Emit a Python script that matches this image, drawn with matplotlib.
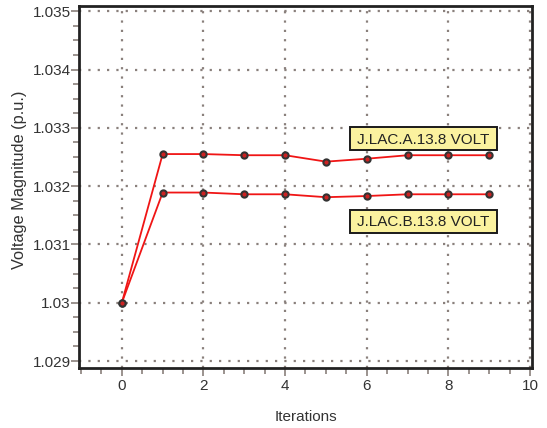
import matplotlib
matplotlib.use("Agg")
import matplotlib.pyplot as plt
from matplotlib.ticker import MultipleLocator
from matplotlib.patches import Rectangle

plt.rcParams['font.family'] = ['Liberation Sans', 'DejaVu Sans']

iterations = [0, 1, 2, 3, 4, 5, 6, 7, 8, 9]
volt_a = [1.0300, 1.03255, 1.03255, 1.03253, 1.03253, 1.03242, 1.03247, 1.03253, 1.03253, 1.03253]
volt_b = [1.0300, 1.03189, 1.03189, 1.03186, 1.03186, 1.03181, 1.03183, 1.03186, 1.03186, 1.03186]
label_a = "J.LAC.A.13.8 VOLT"
label_b = "J.LAC.B.13.8 VOLT"
y_ticks = [1.029, 1.030, 1.031, 1.032, 1.033, 1.034, 1.035]
y_tick_labels = ["1.029", "1.03", "1.031", "1.032", "1.033", "1.034", "1.035"]
x_ticks = [0, 2, 4, 6, 8, 10]

W, H = 547, 428
fig = plt.figure(figsize=(W/100, H/100), dpi=100)
ax = fig.add_axes([79/W, 1-368/H, (532-79)/W, (368-6)/H])

grid_c = '#8a807c'
ax.set_xlim(-1.05, 10.05)
ax.set_ylim(1.02888, 1.03509)
ax.set_xticks(x_ticks)
ax.set_yticks(y_ticks)
ax.set_yticklabels(y_tick_labels)
ax.xaxis.set_minor_locator(MultipleLocator(0.5))
ax.yaxis.set_minor_locator(MultipleLocator(0.00025))
ax.grid(True, which='major', color=grid_c, linestyle=(0, (1, 3.2)), linewidth=1.6)
ax.set_axisbelow(True)

for s in ax.spines.values():
    s.set_color('#222222')
    s.set_linewidth(2)

ax.tick_params(axis='both', which='major', direction='out', length=6, width=1.2,
               color=grid_c, labelsize=11, labelcolor='#333333', pad=2)
ax.tick_params(axis='y', which='major', pad=0)
ax.tick_params(axis='both', which='minor', direction='out', length=4, width=1.2, color=grid_c)

for vals in (volt_a, volt_b):
    ax.plot(iterations, vals, color='#f01515', linewidth=1.3, marker='o',
            markersize=4.5, markerfacecolor='#cc2222', markeredgecolor='#333333',
            markeredgewidth=1.5, zorder=3)

# label boxes (figure pixel layout)
for (cx, cy, txt) in ((423.5, 138.5, label_a), (423.5, 221, label_b)):
    bw, bh = 147, 23
    fig.patches.append(Rectangle(((cx - bw/2)/W, 1 - (cy + bh/2)/H), bw/W, bh/H,
                                 transform=fig.transFigure, facecolor='#fbf29f',
                                 edgecolor='#1a1a1a', linewidth=1.4, zorder=5))
    fig.text(cx/W, 1 - cy/H, txt, fontsize=11, color='#222222',
             ha='center', va='center_baseline', zorder=6)

ax.set_xlabel("Iterations", fontsize=11, color='#333333', labelpad=12)
ax.set_ylabel("Voltage Magnitude (p.u.)", fontsize=11.8, color='#333333')
ax.yaxis.set_label_coords((27 - 79) / 453, 0.52)

fig.savefig("out.png", dpi=100)
